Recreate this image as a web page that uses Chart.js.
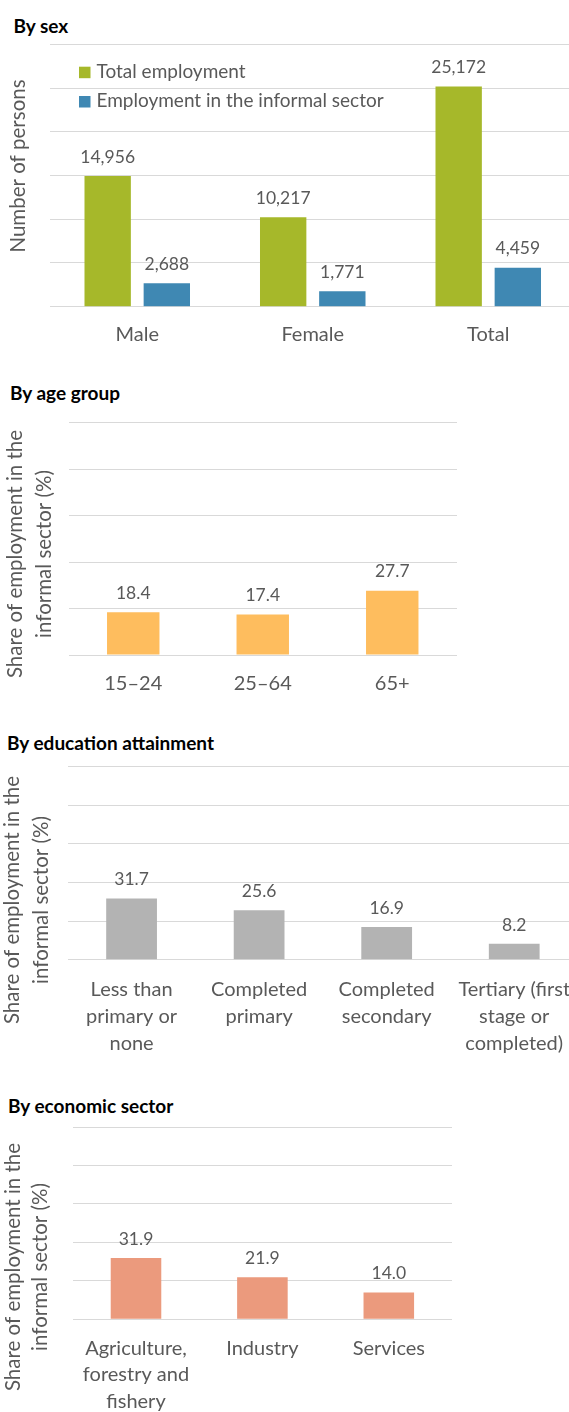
<!DOCTYPE html>
<html>
<head>
<meta charset="utf-8">
<script src="https://cdn.jsdelivr.net/npm/chart.js@4.4.1/dist/chart.umd.min.js"></script>
<style>
  html, body { margin: 0; padding: 0; background: #fff; overflow: hidden; }
  body { width: 569px; height: 1412px; position: relative; font-family: Lato, sans-serif; }
  .ttl { position: absolute; font-weight: bold; font-size: 19px; line-height: 19px; color: #000; white-space: nowrap; }
  .box { position: absolute; left: 0; }
</style>
</head>
<body>
<div class="ttl" style="left:13.5px;top:15.5px">By sex</div>
<div class="box" style="top:34px;width:576px;height:326px"><canvas id="sex"></canvas></div>

<div class="ttl" style="left:10px;top:382.7px">By age group</div>
<div class="box" style="top:405px;width:457px;height:295px"><canvas id="age"></canvas></div>

<div class="ttl" style="left:7px;top:733.3px">By education attainment</div>
<div class="box" style="top:752px;width:578px;height:318px"><canvas id="edu"></canvas></div>

<div class="ttl" style="left:8px;top:1095.7px">By economic sector</div>
<div class="box" style="top:1115px;width:452px;height:297px"><canvas id="sector"></canvas></div>

<script>
// data
const sexCategories = ["Male", "Female", "Total"];
const totalEmployment = [14956, 10217, 25172];
const informalEmployment = [2688, 1771, 4459];

const ageCategories = ["15–24", "25–64", "65+"];
const ageShare = [18.4, 17.4, 27.7];

const eduCategories = [
  ["Less than", "primary or", "none"],
  ["Completed", "primary"],
  ["Completed", "secondary"],
  ["Tertiary (first", "stage or", "completed)"],
];
const eduShare = [31.7, 25.6, 16.9, 8.2];

const sectorCategories = [["Agriculture,", "forestry and", "fishery"], "Industry", "Services"];
const sectorShare = [31.9, 21.9, 14.0];

const shareTitle = ["Share of employment in the", "informal sector (%)"];

Chart.defaults.font.family = "Lato";
Chart.defaults.color = "#595959";
const textColor = "#595959";
const gridColor = "#d9d9d9";

// number labels above each bar
const valueLabels = {
  id: "valueLabels",
  afterDatasetsDraw(chart, args, opts) {
    const ctx = chart.ctx;
    ctx.save();
    ctx.font = `${opts.size}px Lato`;
    ctx.fillStyle = textColor;
    ctx.textAlign = "center";
    ctx.textBaseline = "alphabetic";
    chart.data.datasets.forEach((ds, i) => {
      chart.getDatasetMeta(i).data.forEach((bar, j) => {
        ctx.fillText(opts.format(ds.data[j]), bar.x, bar.y - opts.gap + 0.358 * opts.size);
      });
    });
    ctx.restore();
  },
};

// legend drawn inside the plot, like the original
const boxLegend = {
  id: "boxLegend",
  afterDraw(chart, args, opts) {
    if (!opts.show) return;
    const { ctx, chartArea } = chart;
    ctx.save();
    ctx.font = `${opts.size}px Lato`;
    ctx.textBaseline = "alphabetic";
    chart.data.datasets.forEach((ds, i) => {
      const x = chartArea.left + opts.x;
      const y = chartArea.top + opts.y + i * opts.step;
      ctx.fillStyle = ds.backgroundColor;
      ctx.fillRect(x, y, opts.box, opts.box);
      ctx.fillStyle = textColor;
      ctx.fillText(ds.label, x + opts.box + opts.gap, y + opts.base);
    });
    ctx.restore();
  },
};

// rotated axis title, centred on the whole chart like Excel does
const sideTitle = {
  id: "sideTitle",
  afterDraw(chart, args, opts) {
    if (!opts.lines) return;
    const ctx = chart.ctx;
    ctx.save();
    ctx.font = `${opts.size}px Lato`;
    ctx.fillStyle = textColor;
    ctx.textAlign = "center";
    ctx.textBaseline = "alphabetic";
    opts.lines.forEach((t, i) => {
      ctx.save();
      ctx.translate(opts.xs[i], opts.y);
      ctx.rotate(-Math.PI / 2);
      ctx.fillText(t, 0, 0.358 * opts.size);
      ctx.restore();
    });
    ctx.restore();
  },
};

const makeChart = (id, cfg) => {
  return new Chart(document.getElementById(id), {
    type: "bar",
    data: { labels: cfg.labels, datasets: cfg.datasets },
    plugins: [valueLabels, boxLegend, sideTitle],
    options: {
      responsive: true,
      maintainAspectRatio: false,
      animation: false,
      layout: { padding: { top: cfg.top, left: 0, right: 0, bottom: 0 } },
      datasets: {
        bar: {
          categoryPercentage: cfg.catPct,
          barPercentage: cfg.barPct,
          borderWidth: 0,
        },
      },
      scales: {
        x: {
          grid: { display: false, drawTicks: false },
          border: { display: false },
          ticks: {
            padding: cfg.tickPad,
            maxRotation: 0,
            autoSkip: false,
            color: textColor,
            font: { size: 20, lineHeight: 1.33 },
          },
          afterFit: (s) => {
            s.height = cfg.bottom;
            s.paddingLeft = 0;
            s.paddingRight = 0;
          },
        },
        y: {
          min: 0,
          max: cfg.max,
          ticks: { display: false, stepSize: cfg.step },
          grid: { color: gridColor, lineWidth: 1, drawTicks: false },
          border: { display: false },
          afterFit: (s) => {
            s.width = cfg.left;
            s.paddingTop = 0;
            s.paddingBottom = 0;
          },
        },
      },
      plugins: {
        legend: { display: false },
        tooltip: { enabled: false },
        valueLabels: { size: 17.5, gap: 19.5, format: cfg.format },
        boxLegend: cfg.legend || { show: false },
        sideTitle: cfg.title,
      },
    },
  });
};

const thousands = (v) => v.toLocaleString("en-US");
const oneDecimal = (v) => v.toFixed(1);

makeChart("sex", {
  labels: sexCategories,
  datasets: [
    { label: "Total employment", data: totalEmployment, backgroundColor: "#a6b82a" },
    { label: "Employment in the informal sector", data: informalEmployment, backgroundColor: "#3f88b3" },
  ],
  top: 10.3, left: 49.5, bottom: 53.3, tickPad: 15,
  catPct: 0.674, barPct: 0.784,
  max: 30000, step: 5000,
  format: thousands,
  legend: { show: true, size: 19, x: 29.5, y: 22.4, step: 29.3, box: 11.5, gap: 6, base: 11.2 },
  title: { lines: ["Number of persons"], xs: [18], y: 132, size: 20.5 },
});

makeChart("age", {
  labels: ageCategories,
  datasets: [{ label: "Share", data: ageShare, backgroundColor: "#febd5e" }],
  top: 17.7, left: 68.5, bottom: 45, tickPad: 15,
  catPct: 1, barPct: 0.405,
  max: 100, step: 20,
  format: oneDecimal,
  title: { lines: shareTitle, xs: [15, 43.3], y: 149, size: 20.5 },
});

makeChart("edu", {
  labels: eduCategories,
  datasets: [{ label: "Share", data: eduShare, backgroundColor: "#b3b3b3" }],
  top: 14.7, left: 67.8, bottom: 110.3, tickPad: 17,
  catPct: 1, barPct: 0.398,
  max: 100, step: 20,
  format: oneDecimal,
  title: { lines: shareTitle, xs: [11.7, 40.7], y: 148, size: 20.5 },
});

makeChart("sector", {
  labels: sectorCategories,
  datasets: [{ label: "Share", data: sectorShare, backgroundColor: "#eb9a7d" }],
  top: 12, left: 72.8, bottom: 92.7, tickPad: 15.6,
  catPct: 1, barPct: 0.4,
  max: 100, step: 20,
  format: oneDecimal,
  title: { lines: shareTitle, xs: [12.7, 40], y: 152, size: 20.5 },
});
</script>
</body>
</html>
